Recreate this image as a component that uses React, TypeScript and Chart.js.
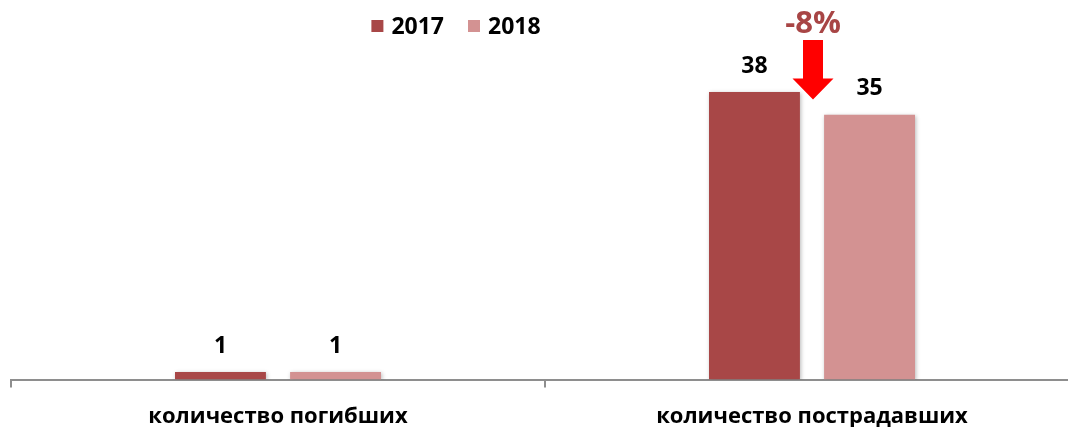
import React, { useEffect, useRef } from 'react';
import { Chart, registerables } from 'chart.js';

Chart.register(...registerables);

const categories = ['количество погибших', 'количество пострадавших'];
const seriesLabels = ['2017', '2018'];
const values2017 = [1, 38];
const values2018 = [1, 35];
const seriesColors = ['#A84747', '#D39292'];

const FONT = '"Open Sans", "DejaVu Sans", sans-serif';

const customPlugin = {
  id: 'customDraw',
  beforeDatasetsDraw(chart: any) {
    const ctx = chart.ctx;
    ctx.save();
    ctx.shadowColor = 'rgba(0,0,0,0.28)';
    ctx.shadowBlur = 4;
    ctx.shadowOffsetX = 1;
    ctx.shadowOffsetY = 1;
  },
  afterDatasetsDraw(chart: any) {
    const ctx = chart.ctx;
    ctx.restore();
    ctx.save();
    // data labels
    ctx.font = `bold 23px ${FONT}`;
    ctx.fillStyle = '#000';
    ctx.textAlign = 'center';
    ctx.textBaseline = 'middle';
    chart.data.datasets.forEach((ds: any, di: number) => {
      const meta = chart.getDatasetMeta(di);
      meta.data.forEach((el: any, i: number) => {
        ctx.fillText(String(ds.data[i]), el.x, el.y - 26);
      });
    });
    // legend
    ctx.font = `bold 23px ${FONT}`;
    ctx.textAlign = 'left';
    const box = 12;
    const gap = 8;
    const itemGap = 24;
    const widths = seriesLabels.map((l) => box + gap + ctx.measureText(l).width);
    const total = widths.reduce((a, b) => a + b, 0) + itemGap * (widths.length - 1);
    let x = 456 - total / 2;
    const ly = 26;
    seriesLabels.forEach((l, i) => {
      ctx.fillStyle = seriesColors[i];
      ctx.fillRect(x, ly - box / 2, box, box);
      ctx.fillStyle = '#000';
      ctx.fillText(l, x + box + gap, ly + 1);
      x += widths[i] + itemGap;
    });
    // change annotation
    const xs = chart.scales.x;
    const ys = chart.scales.y;
    const cx = xs.getPixelForValue(1) + 1;
    const pct = Math.round(((values2018[1] - values2017[1]) / values2017[1]) * 100);
    ctx.font = `bold 31px ${FONT}`;
    ctx.fillStyle = '#A84545';
    ctx.textAlign = 'center';
    ctx.fillText(`${pct}%`, cx, 24);
    const top = chart.chartArea.top + 1;
    const tip = ys.getPixelForValue(values2017[1] - 1);
    const headH = 21;
    ctx.fillStyle = '#FF0000';
    ctx.beginPath();
    ctx.moveTo(cx - 10, top);
    ctx.lineTo(cx + 10, top);
    ctx.lineTo(cx + 10, tip - headH);
    ctx.lineTo(cx + 20.5, tip - headH);
    ctx.lineTo(cx, tip);
    ctx.lineTo(cx - 20.5, tip - headH);
    ctx.lineTo(cx - 10, tip - headH);
    ctx.closePath();
    ctx.fill();
    ctx.restore();
  },
};

export default function App() {
  const ref = useRef<HTMLCanvasElement | null>(null);
  useEffect(() => {
    if (!ref.current) return;
    const chart = new Chart(ref.current, {
      type: 'bar',
      data: {
        labels: categories,
        datasets: [
          { label: seriesLabels[0], data: values2017, backgroundColor: seriesColors[0] },
          { label: seriesLabels[1], data: values2018, backgroundColor: seriesColors[1] },
        ],
      },
      options: {
        responsive: false,
        animation: false,
        categoryPercentage: 0.431,
        barPercentage: 0.79,
        layout: { padding: { left: 11, right: 21, top: 39, bottom: -19 } },
        plugins: { legend: { display: false }, tooltip: { enabled: false } },
        scales: {
          x: {
            grid: {
              drawOnChartArea: false,
              drawTicks: true,
              tickLength: 8,
              color: '#8E8E8E',
              lineWidth: 2,
              offset: true,
            },
            border: { color: '#8E8E8E', width: 2 },
            ticks: {
              font: { family: FONT, size: 22, weight: 'bold' },
              color: '#000',
              padding: 16,
            },
          },
          y: { display: false, min: 0, max: 45 },
        },
      },
      plugins: [customPlugin],
    } as any);
    return () => chart.destroy();
  }, []);
  return (
    <div style={{ position: 'fixed', left: 0, top: 0, width: 1068, height: 427, overflow: 'hidden', background: '#fff' }}>
      <canvas ref={ref} width={1100} height={427} style={{ display: 'block' }} />
    </div>
  );
}
